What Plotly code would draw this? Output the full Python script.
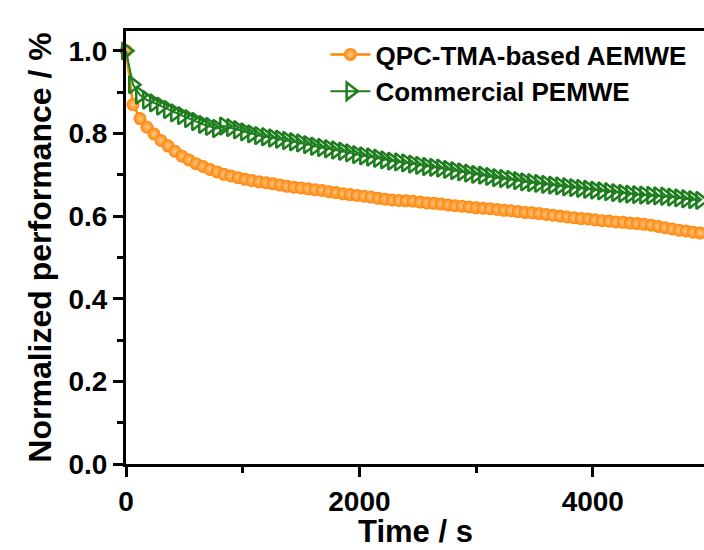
import plotly.graph_objects as go

time_s = [0, 60, 120, 180, 240, 300, 360, 420, 480, 540, 600, 660, 720, 780, 840, 900, 960,
          1020, 1080, 1140, 1200, 1260, 1320, 1380, 1440, 1500, 1560, 1620, 1680, 1740, 1800,
          1860, 1920, 1980, 2040, 2100, 2160, 2220, 2280, 2340, 2400, 2460, 2520, 2580, 2640,
          2700, 2760, 2820, 2880, 2940, 3000, 3060, 3120, 3180, 3240, 3300, 3360, 3420, 3480,
          3540, 3600, 3660, 3720, 3780, 3840, 3900, 3960, 4020, 4080, 4140, 4200, 4260, 4320,
          4380, 4440, 4500, 4560, 4620, 4680, 4740, 4800, 4860, 4920]

aemwe = [1.000, 0.870, 0.836, 0.815, 0.799, 0.783, 0.770, 0.757, 0.745, 0.736, 0.727, 0.720,
         0.713, 0.707, 0.701, 0.697, 0.693, 0.689, 0.686, 0.683, 0.681, 0.678, 0.675, 0.672,
         0.670, 0.668, 0.666, 0.664, 0.662, 0.659, 0.657, 0.654, 0.652, 0.650, 0.648, 0.646,
         0.643, 0.641, 0.639, 0.638, 0.637, 0.636, 0.634, 0.632, 0.631, 0.629, 0.627, 0.625,
         0.624, 0.622, 0.620, 0.619, 0.618, 0.616, 0.614, 0.613, 0.611, 0.609, 0.608, 0.606,
         0.604, 0.602, 0.600, 0.598, 0.596, 0.594, 0.593, 0.591, 0.589, 0.588, 0.586, 0.585,
         0.583, 0.582, 0.580, 0.578, 0.575, 0.572, 0.569, 0.566, 0.564, 0.561, 0.559]

pemwe = [1.000, 0.918, 0.893, 0.881, 0.874, 0.866, 0.858, 0.850, 0.843, 0.836, 0.829, 0.822,
         0.817, 0.812, 0.818, 0.814, 0.809, 0.804, 0.799, 0.795, 0.792, 0.789, 0.786, 0.783,
         0.780, 0.777, 0.773, 0.769, 0.766, 0.763, 0.760, 0.757, 0.753, 0.749, 0.746, 0.743,
         0.740, 0.736, 0.733, 0.731, 0.729, 0.726, 0.723, 0.720, 0.718, 0.716, 0.713, 0.710,
         0.707, 0.704, 0.701, 0.699, 0.696, 0.693, 0.691, 0.689, 0.686, 0.683, 0.681, 0.679,
         0.677, 0.675, 0.673, 0.671, 0.669, 0.667, 0.665, 0.663, 0.661, 0.659, 0.657, 0.655,
         0.653, 0.652, 0.651, 0.650, 0.649, 0.648, 0.646, 0.644, 0.642, 0.640, 0.638]

names = ["QPC-TMA-based AEMWE", "Commercial PEMWE"]
x_title = "Time / s"
y_title = "Normalized performance / %"
ORANGE = "#FF8505"
GREEN = "#1E7E1E"
FONT = "Liberation Sans, Arial, sans-serif"

fig = go.Figure()
fig.add_trace(go.Scatter(
    x=time_s, y=aemwe, name=names[0], mode="lines+markers", cliponaxis=False,
    line=dict(color=ORANGE, width=2.5),
    marker=dict(symbol="circle", size=13, color=ORANGE, line=dict(width=0),
                gradient=dict(type="radial", color="#FFC88A")),
))
fig.add_trace(go.Scatter(
    x=time_s, y=pemwe, name=names[1], mode="lines+markers", cliponaxis=False,
    line=dict(color=GREEN, width=2),
    marker=dict(symbol="triangle-right-open", size=15, color=GREEN,
                line=dict(color=GREEN, width=2.5)),
))

axis_common = dict(
    showgrid=False, zeroline=False, showline=True, linecolor="black", linewidth=3,
    ticks="outside", ticklen=10, tickwidth=2.5, tickcolor="black", automargin=False,
    tickfont=dict(family=FONT, size=28, color="black", weight="bold"),
)
fig.update_xaxes(
    **axis_common, range=[0, 4953], tickvals=[0, 2000, 4000], mirror=True,
    minor=dict(tickvals=[1000, 3000], ticklen=6, tickwidth=2.5, tickcolor="black", ticks="outside"),
)
fig.update_yaxes(
    **axis_common, range=[0, 1.048], tickvals=[0, 0.2, 0.4, 0.6, 0.8, 1.0],
    ticktext=["0.0", "0.2", "0.4", "0.6", "0.8", "1.0"],
    minor=dict(tickvals=[0.1, 0.3, 0.5, 0.7, 0.9], ticklen=6, tickwidth=2.5,
               tickcolor="black", ticks="outside"),
    title=dict(text=y_title,
               font=dict(family=FONT, size=32, color="black", weight="bold"), standoff=8),
)

fig.add_annotation(
    text=x_title, xref="paper", yref="paper", x=0.5, y=-0.157,
    xanchor="center", yanchor="middle", showarrow=False,
    font=dict(family=FONT, size=31, color="black", weight="bold"),
)

fig.update_layout(
    width=704, height=550,
    margin=dict(l=126, r=0, t=31, b=86),
    paper_bgcolor="white", plot_bgcolor="white",
    showlegend=True,
    legend=dict(x=0.345, y=1.0, xanchor="left", yanchor="top", bgcolor="rgba(0,0,0,0)",
                font=dict(family=FONT, size=26, color="black", weight="bold"),
                itemwidth=40, tracegroupgap=0),
)

fig.write_html("out.html")
